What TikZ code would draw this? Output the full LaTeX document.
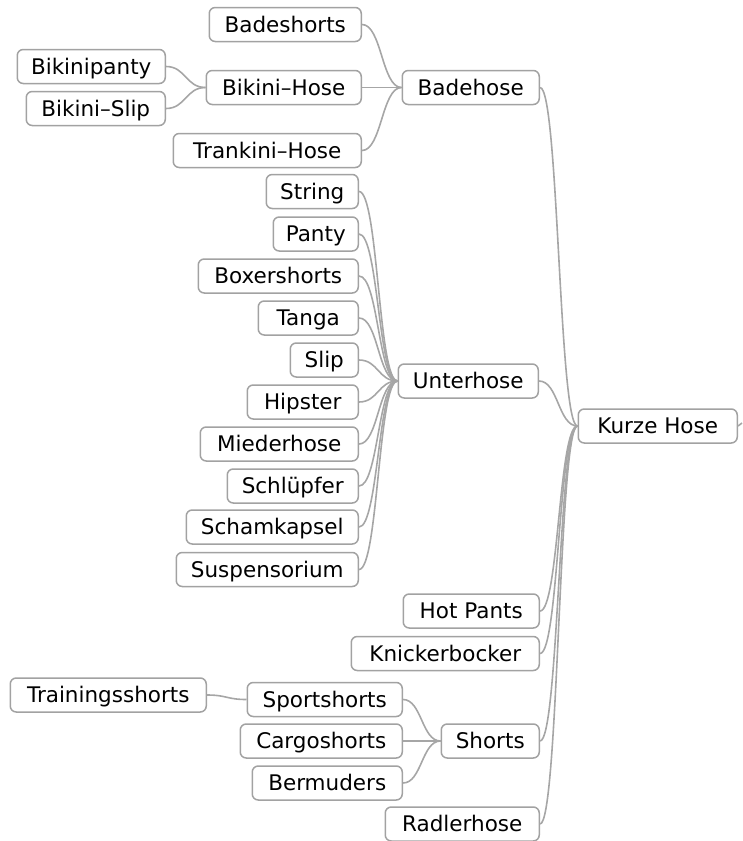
\documentclass[tikz,border=0pt]{standalone}
\usepackage{fontspec}
\setmainfont{DejaVu Sans}
\usetikzlibrary{calc}
\definecolor{edgec}{HTML}{A6A6A6}
\definecolor{boxc}{HTML}{A2A2A2}
\tikzset{
  box/.style={draw=boxc, line width=1.5pt, rounded corners=6pt, fill=white,
    minimum height=34pt, inner sep=0pt, anchor=east,
    text height=15.6pt, text depth=0pt,
    font=\fontsize{21.5}{25}\selectfont, text=black},
  link/.style={draw=edgec, line width=1.6pt,
    to path={.. controls ($(\tikztostart)!0.5!(\tikztotarget|-\tikztostart)$)
      and ($(\tikztotarget)!0.5!(\tikztostart|-\tikztotarget)$) .. (\tikztotarget)}}
}
\begin{document}
\begin{tikzpicture}[x=1pt,y=-1pt]
\useasboundingbox (0,0) rectangle (742,841);
% Badehose branch
\node[box,minimum width=152pt] (badeshorts) at (362,24.5) {Badeshorts};
\node[box,minimum width=148pt] (bikinipanty) at (166,66.5) {Bikinipanty};
\node[box,minimum width=155pt] (bikinihose) at (362,87.5) {Bikini–Hose};
\node[box,minimum width=139pt] (bikinislip) at (166,108.5) {Bikini–Slip};
\node[box,minimum width=188pt] (trankini) at (362,150.5) {Trankini–Hose};
\node[box,minimum width=137pt] (badehose) at (540,87.5) {Badehose};
% Unterhose branch
\node[box,minimum width=92pt] (string) at (359,191.5) {String};
\node[box,minimum width=85pt] (panty) at (359,234) {Panty};
\node[box,minimum width=160pt] (boxer) at (359,276) {Boxershorts};
\node[box,minimum width=100pt] (tanga) at (359,318) {Tanga};
\node[box,minimum width=68pt] (slip) at (359,360) {Slip};
\node[box,minimum width=111pt] (hipster) at (359,402) {Hipster};
\node[box,minimum width=158pt] (mieder) at (359,444) {Miederhose};
\node[box,minimum width=131pt] (schluepfer) at (359,486) {Schlüpfer};
\node[box,minimum width=172pt] (scham) at (359,527) {Schamkapsel};
\node[box,minimum width=182pt] (suspens) at (359,569.5) {Suspensorium};
\node[box,minimum width=140pt] (unterhose) at (539,381) {Unterhose};
% root
\node[box,minimum width=159pt] (kurze) at (738,426) {Kurze Hose};
\coordinate (out) at (742,423);
% lower branches
\node[box,minimum width=136pt] (hotpants) at (540,611) {Hot Pants};
\node[box,minimum width=188pt] (knicker) at (540,653.5) {Knickerbocker};
\node[box,minimum width=98pt] (shorts) at (540,741) {Shorts};
\node[box,minimum width=154pt] (radler) at (540,824) {Radlerhose};
\node[box,minimum width=196pt] (training) at (207,695) {Trainingsshorts};
\node[box,minimum width=155pt] (sport) at (403,699.5) {Sportshorts};
\node[box,minimum width=162pt] (cargo) at (403,741) {Cargoshorts};
\node[box,minimum width=150pt] (bermuders) at (403,783) {Bermuders};
% connectors
\foreach \c in {badeshorts,bikinihose,trankini}
  \draw[link] (\c.east) to (badehose.west);
\foreach \c in {bikinipanty,bikinislip}
  \draw[link] (\c.east) to (bikinihose.west);
\foreach \c in {string,panty,boxer,tanga,slip,hipster,mieder,schluepfer,scham,suspens}
  \draw[link] (\c.east) to (unterhose.west);
\foreach \c in {badehose,unterhose,hotpants,knicker,shorts,radler}
  \draw[link] (\c.east) to (kurze.west);
\draw[link] (training.east) to (sport.west);
\foreach \c in {sport,cargo,bermuders}
  \draw[link] (\c.east) to (shorts.west);
\draw[link] (kurze.east) to (out);
\end{tikzpicture}
\end{document}
